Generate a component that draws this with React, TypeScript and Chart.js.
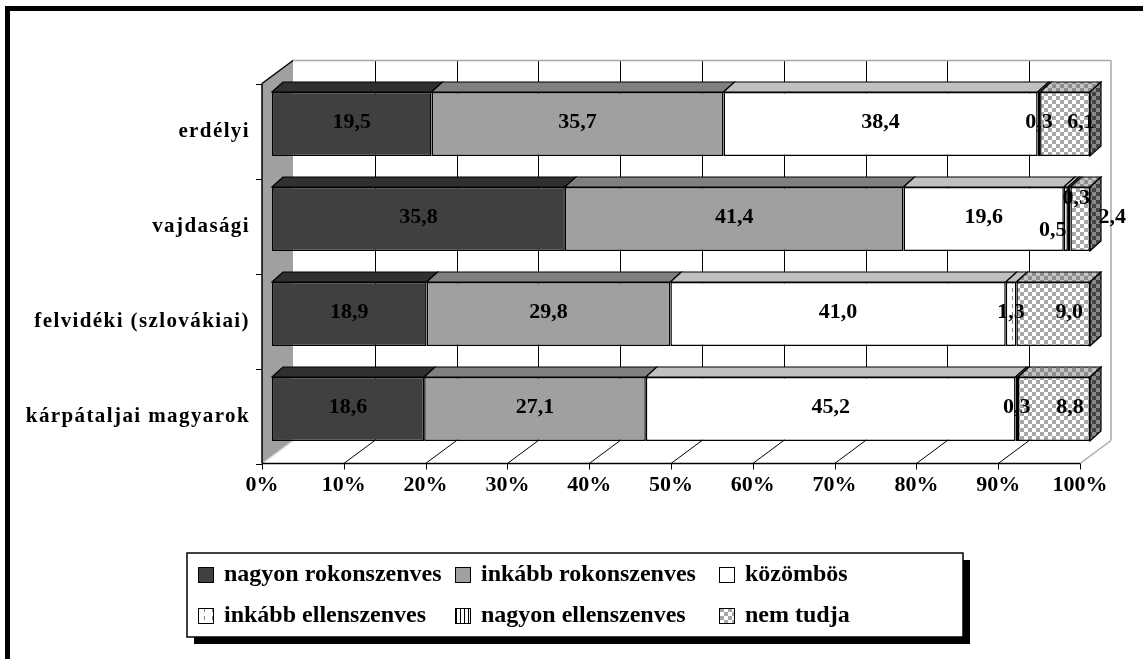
import React, { useEffect, useRef } from "react";
import { Chart, registerables } from "chart.js";

Chart.register(...registerables);

// ---------- data ----------
const categories = ["erdélyi", "vajdasági", "felvidéki (szlovákiai)", "kárpátaljai magyarok"];
const seriesNames = [
  "nagyon rokonszenves",
  "inkább rokonszenves",
  "közömbös",
  "inkább ellenszenves",
  "nagyon ellenszenves",
  "nem tudja",
];
const nagyonRokonszenves = [19.5, 35.8, 18.9, 18.6];
const inkabbRokonszenves = [35.7, 41.4, 29.8, 27.1];
const kozombos = [38.4, 19.6, 41.0, 45.2];
const inkabbEllenszenves = [0.3, 0.5, 1.3, 0.3];
const nagyonEllenszenves = [0, 0.3, 0, 0];
const nemTudja = [6.1, 2.4, 9.0, 8.8];
const xMin = 0;
const xMax = 100;
const xStep = 10;

// ---------- styles ----------
const FONT = '"Liberation Serif", "Times New Roman", serif';
const FRONT = { dx: -10, dy: 7 };
const BACK = { dx: 21, dy: -16 };
const DEPTH = { dx: 11, dy: -10 };

function makePattern(ctx: CanvasRenderingContext2D, size: number, draw: (g: CanvasRenderingContext2D) => void) {
  const c = document.createElement("canvas");
  c.width = size;
  c.height = size;
  const g = c.getContext("2d")!;
  draw(g);
  return ctx.createPattern(c, "repeat")!;
}

export default function App() {
  const ref = useRef<HTMLCanvasElement>(null);

  useEffect(() => {
    const canvas = ref.current!;
    const ctx0 = canvas.getContext("2d")!;

    const checker = (a: string, b: string) =>
      makePattern(ctx0, 8, (g) => {
        g.fillStyle = a;
        g.fillRect(0, 0, 8, 8);
        g.fillStyle = b;
        g.fillRect(0, 0, 4, 4);
        g.fillRect(4, 4, 4, 4);
      });
    const dashed = (bg: string, fg: string) =>
      makePattern(ctx0, 8, (g) => {
        g.fillStyle = bg;
        g.fillRect(0, 0, 8, 8);
        g.fillStyle = fg;
        g.fillRect(4, 0, 1, 4);
      });
    const stripes = (bg: string, fg: string) =>
      makePattern(ctx0, 4, (g) => {
        g.fillStyle = bg;
        g.fillRect(0, 0, 4, 4);
        g.fillStyle = fg;
        g.fillRect(0, 0, 1, 4);
      });

    const fronts: any[] = [
      "#404040",
      "#a0a0a0",
      "#ffffff",
      dashed("#ffffff", "#808080"),
      stripes("#ffffff", "#000000"),
      checker("#ffffff", "#a8a8a8"),
    ];
    const tops: any[] = [
      "#303030",
      "#808080",
      "#c0c0c0",
      "#c0c0c0",
      "#c0c0c0",
      checker("#c4c4c4", "#8c8c8c"),
    ];
    const sides: any[] = [
      "#202020",
      "#606060",
      "#a0a0a0",
      "#a0a0a0",
      "#a0a0a0",
      checker("#8a8a8a", "#444444"),
    ];

    const seriesData = [
      nagyonRokonszenves,
      inkabbRokonszenves,
      kozombos,
      inkabbEllenszenves,
      nagyonEllenszenves,
      nemTudja,
    ];

    const line = (ctx: CanvasRenderingContext2D, x1: number, y1: number, x2: number, y2: number) => {
      ctx.beginPath();
      ctx.moveTo(x1, y1);
      ctx.lineTo(x2, y2);
      ctx.stroke();
    };
    const poly = (ctx: CanvasRenderingContext2D, pts: number[][], fill: any, stroke?: string) => {
      ctx.beginPath();
      pts.forEach((p, i) => (i ? ctx.lineTo(p[0], p[1]) : ctx.moveTo(p[0], p[1])));
      ctx.closePath();
      ctx.fillStyle = fill;
      ctx.fill();
      if (stroke) {
        ctx.strokeStyle = stroke;
        ctx.stroke();
      }
    };

    const plugin3d = {
      id: "excel3d",
      beforeDraw(chart: any) {
        const ctx = chart.ctx as any;
        ctx.letterSpacing = "0px";
        ctx.save();
        ctx.fillStyle = "#000";
        ctx.fillRect(5, 6, chart.width - 5, 5);
        ctx.fillRect(5, 6, 5, chart.height - 6);
        ctx.restore();
      },
      beforeDatasetsDraw(chart: any) {
        const ctx = chart.ctx as CanvasRenderingContext2D;
        const xs = chart.scales.x;
        const { top: T, bottom: B } = chart.chartArea;
        const px = (v: number) => xs.getPixelForValue(v);
        const fT = T + FRONT.dy, fB = B + FRONT.dy, bT = T + BACK.dy, bB = B + BACK.dy;
        const f0 = px(xMin) + FRONT.dx, f1 = px(xMax) + FRONT.dx;
        const b0 = px(xMin) + BACK.dx, b1 = px(xMax) + BACK.dx;
        const ticks = xs.ticks.map((t: any) => t.value);
        ctx.save();
        ctx.lineWidth = 1;
        // back wall
        ctx.fillStyle = "#fff";
        ctx.fillRect(b0, bT, b1 - b0, bB - bT);
        ctx.strokeStyle = "#000";
        ticks.forEach((v: number) => {
          if (v > xMin && v < xMax) line(ctx, Math.round(px(v) + BACK.dx) + 0.5, bT, Math.round(px(v) + BACK.dx) + 0.5, bB);
        });
        ctx.strokeStyle = "#a8a8a8";
        ctx.lineWidth = 1.5;
        line(ctx, b0, bT, b1, bT);
        line(ctx, b1, bT, b1, bB);
        ctx.lineWidth = 1;
        // floor
        poly(ctx, [[f0, fB], [f1, fB], [b1, bB], [b0, bB]], "#fff");
        ticks.forEach((v: number) => {
          ctx.strokeStyle = v === xMax ? "#a8a8a8" : v === xMin ? "#d0d0d0" : "#000";
          ctx.lineWidth = v === xMax ? 1.5 : 1;
          line(ctx, px(v) + FRONT.dx, fB, px(v) + BACK.dx, bB);
        });
        // side wall
        poly(ctx, [[f0, fT], [b0, bT], [b0, bB], [f0, fB]], "#a0a0a0");
        ctx.strokeStyle = "#d0d0d0";
        line(ctx, f0, fB, b0, bB);
        ctx.strokeStyle = "#000";
        ctx.lineWidth = 1.5;
        line(ctx, f0, fT, b0, bT);
        // axis lines
        line(ctx, f0, fT, f0, fB);
        line(ctx, f0, fB, f1, fB);
        ctx.lineWidth = 1;
        ticks.forEach((v: number) => {
          const x = Math.round(px(v) + FRONT.dx) + 0.5;
          line(ctx, x, fB, x, fB + 6);
        });
        const n = chart.data.labels.length;
        for (let i = 0; i <= n; i++) {
          const y = Math.round(T + (i * (B - T)) / n + FRONT.dy) + 0.5;
          line(ctx, f0 - 6, y, f0, y);
        }
        ctx.restore();
      },
      afterDatasetsDraw(chart: any) {
        const ctx = chart.ctx as any;
        const datasets = chart.data.datasets;
        const metas = datasets.map((_: any, i: number) => chart.getDatasetMeta(i));
        ctx.save();
        ctx.lineWidth = 1.2;
        const allSegs: any[] = [];
        chart.data.labels.forEach((_: any, j: number) => {
          const segs: any[] = [];
          datasets.forEach((ds: any, di: number) => {
            const v = ds.data[j];
            if (!(v > 0)) return;
            const p = metas[di].data[j].getProps(["x", "y", "base", "height"], true);
            segs.push({
              di, v,
              x0: Math.min(p.x, p.base), x1: Math.max(p.x, p.base),
              top: p.y - p.height / 2, bot: p.y + p.height / 2, cy: p.y,
            });
          });
          segs.forEach((s) => {
            poly(ctx, [[s.x0, s.top], [s.x1, s.top], [s.x1 + DEPTH.dx, s.top + DEPTH.dy], [s.x0 + DEPTH.dx, s.top + DEPTH.dy]], tops[s.di], "#000");
          });
          const last = segs[segs.length - 1];
          poly(ctx, [[last.x1, last.top], [last.x1 + DEPTH.dx, last.top + DEPTH.dy], [last.x1 + DEPTH.dx, last.bot + DEPTH.dy], [last.x1, last.bot]], sides[last.di], "#000");
          allSegs.push(segs);
        });
        // data labels
        ctx.fillStyle = "#000";
        ctx.font = `bold 22px ${FONT}`;
        ctx.textAlign = "center";
        ctx.textBaseline = "middle";
        allSegs.forEach((segs: any[]) => {
          const tiny = segs.filter((s) => s.v < 1);
          segs.forEach((s, k) => {
            let cx = (s.x0 + s.x1) / 2;
            let cy = s.cy - 2;
            if (tiny.length >= 2 && s.v < 1) {
              if (tiny.indexOf(s) === 0) { cx -= 13; cy += 13; } else { cx += 7; cy -= 19; }
            }
            if (k === segs.length - 1) {
              cx += 16;
              if (tiny.length >= 2) cx += 16;
            }
            ctx.fillText(s.v.toFixed(1).replace(".", ","), cx, cy);
          });
        });
        ctx.restore();
        ctx.letterSpacing = "1.4px";
      },
      afterDraw(chart: any) {
        const ctx = chart.ctx as any;
        ctx.letterSpacing = "0px";
        ctx.save();
        const bx = 187, by = 553, bw = 776, bh = 84;
        ctx.fillStyle = "#000";
        ctx.fillRect(bx + 7, by + 7, bw, bh);
        ctx.fillStyle = "#fff";
        ctx.fillRect(bx, by, bw, bh);
        ctx.strokeStyle = "#000";
        ctx.lineWidth = 1.5;
        ctx.strokeRect(bx, by, bw, bh);
        const cols = [198, 455, 719];
        const rows = [575, 616];
        ctx.font = `bold 24px ${FONT}`;
        ctx.textAlign = "left";
        ctx.textBaseline = "middle";
        chart.data.datasets.forEach((ds: any, i: number) => {
          const x = cols[i % 3];
          const y = rows[Math.floor(i / 3)];
          ctx.fillStyle = ds.backgroundColor;
          ctx.fillRect(x, y - 8, 16, 16);
          ctx.strokeStyle = "#000";
          ctx.lineWidth = 1;
          ctx.strokeRect(x + 0.5, y - 7.5, 15, 15);
          ctx.fillStyle = "#000";
          ctx.fillText(ds.label, x + 26, y);
        });
        ctx.restore();
      },
    };

    const chart = new Chart(canvas, {
      type: "bar",
      data: {
        labels: categories,
        datasets: seriesNames.map((name, i) => ({
          label: name,
          data: seriesData[i],
          backgroundColor: fronts[i],
          borderColor: "#000",
          borderWidth: 1.5,
          borderSkipped: false,
          barPercentage: 0.674,
          categoryPercentage: 1,
        })),
      },
      options: {
        indexAxis: "y",
        responsive: false,
        animation: false,
        events: [],
        layout: { padding: { left: 10, top: 76.5, right: 53, bottom: 142.5 } },
        plugins: { legend: { display: false }, tooltip: { enabled: false } },
        scales: {
          x: {
            stacked: true,
            min: xMin,
            max: xMax,
            position: "bottom",
            grid: { display: false, drawTicks: false },
            border: { display: false },
            ticks: {
              stepSize: xStep,
              autoSkip: false,
              maxRotation: 0,
              padding: 16,
              labelOffset: -10,
              color: "#000",
              font: { family: FONT, size: 22, weight: "bold" },
              callback: (v: any) => `${v}%`,
            },
            afterFit: (s: any) => {
              s.height = 60;
            },
          },
          y: {
            stacked: true,
            grid: { display: false, drawTicks: false },
            border: { display: false },
            ticks: {
              z: 1,
              padding: 22,
              labelOffset: 8,
              color: "#000",
              font: { family: FONT, size: 21, weight: "bold" },
            },
            afterFit: (s: any) => {
              s.width = 262;
            },
          },
        },
      } as any,
      plugins: [plugin3d],
    });

    return () => chart.destroy();
  }, []);

  return (
    <div style={{ position: "fixed", left: 0, top: 0, width: 1143, height: 659, background: "#fff" }}>
      <canvas ref={ref} width={1143} height={659} style={{ display: "block" }} />
    </div>
  );
}
